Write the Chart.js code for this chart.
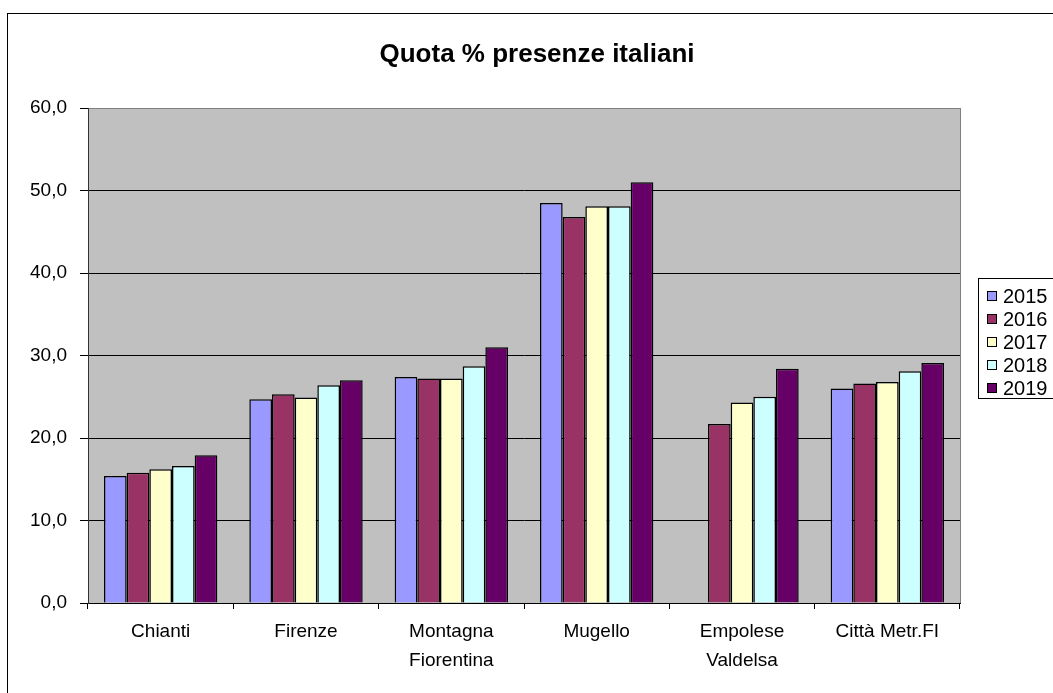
<!DOCTYPE html>
<html>
<head>
<meta charset="utf-8">
<script src="https://cdn.jsdelivr.net/npm/chart.js@4/dist/chart.umd.min.js"></script>
<style>
  html, body { margin: 0; padding: 0; background: #fff; }
  #box { width: 1053px; height: 693px; }
</style>
</head>
<body>
<div id="box"><canvas id="grafico"></canvas></div>
<script>
// Dati
const titolo = 'Quota % presenze italiani';
const zone = ['Chianti', 'Firenze', ['Montagna', 'Fiorentina'], 'Mugello', ['Empolese', 'Valdelsa'], 'Città Metr.FI'];
const anni = ['2015', '2016', '2017', '2018', '2019'];
const colori = ['#9999FF', '#993366', '#FFFFCC', '#CCFFFF', '#660066'];
const valori2015 = [15.4, 24.7, 27.4, 48.5, null, 26.0];
const valori2016 = [15.8, 25.3, 27.2, 46.8, 21.7, 26.6];
const valori2017 = [16.2, 24.9, 27.2, 48.1, 24.3, 26.8];
const valori2018 = [16.6, 26.4, 28.7, 48.1, 25.0, 28.1];
const valori2019 = [17.9, 27.0, 31.0, 51.0, 28.4, 29.1];
const tickY = [0, 10, 20, 30, 40, 50, 60];

const serie = [valori2015, valori2016, valori2017, valori2018, valori2019];
const font = '"Liberation Sans", Arial, sans-serif';

// Sfondo grigio, cornice, titolo e legenda
const decorazioni = {
    id: 'decorazioni',
    beforeDraw(chart) {
        const ctx = chart.ctx;
        const a = chart.chartArea;
        ctx.save();
        ctx.fillStyle = '#C0C0C0';
        ctx.fillRect(a.left, a.top, a.right - a.left, a.bottom - a.top);
        ctx.strokeStyle = '#808080';
        ctx.lineWidth = 1;
        ctx.strokeRect(a.left + 0.5, a.top + 0.5, a.right - a.left, a.bottom - a.top);
        ctx.restore();
    },
    afterDraw(chart) {
        const ctx = chart.ctx;
        ctx.save();
        // cornice esterna
        ctx.strokeStyle = '#000';
        ctx.lineWidth = 1;
        ctx.strokeRect(7.5, 13.5, 1200, 800);
        // titolo
        ctx.fillStyle = '#000';
        ctx.font = 'bold 26px ' + font;
        ctx.textAlign = 'center';
        ctx.textBaseline = 'middle';
        ctx.fillText(titolo, 537, 55);
        // legenda
        ctx.strokeRect(978.5, 278.5, 200, 120);
        ctx.font = '20px ' + font;
        ctx.textAlign = 'left';
        chart.data.datasets.forEach((ds, i) => {
            const y = 296 + i * 23;
            ctx.fillStyle = ds.backgroundColor;
            ctx.fillRect(987, y - 5, 10, 10);
            ctx.strokeStyle = '#000';
            ctx.strokeRect(987.5, y - 4.5, 9, 9);
            ctx.fillStyle = '#000';
            ctx.fillText(ds.label, 1003, y + 1);
        });
        ctx.restore();
    }
};

const datasets = anni.map((anno, i) => ({
    label: anno,
    data: serie[i],
    backgroundColor: colori[i],
    borderColor: '#000',
    borderWidth: 1.5,
    categoryPercentage: 0.78,
    barPercentage: 1
}));

const config = {
    type: 'bar',
    data: { labels: zone, datasets: datasets },
    options: {
        responsive: true,
        maintainAspectRatio: false,
        animation: false,
        layout: { padding: { top: 108, right: 93, left: 0, bottom: 0 } },
        plugins: {
            legend: { display: false },
            title: { display: false },
            tooltip: { enabled: false }
        },
        scales: {
            x: {
                grid: {
                    offset: true,
                    drawOnChartArea: false,
                    drawTicks: true,
                    tickLength: 6,
                    color: '#000'
                },
                border: { color: '#000', width: 1 },
                ticks: {
                    color: '#000',
                    font: { family: font, size: 19, lineHeight: 1.5 },
                    padding: 9,
                    maxRotation: 0,
                    autoSkip: false
                },
                afterFit(scale) { scale.height = 90; }
            },
            y: {
                min: 0,
                max: 60,
                afterBuildTicks(scale) { scale.ticks = tickY.map(v => ({ value: v })); },
                grid: {
                    color: c => (c.tick && c.tick.value === 60) ? '#808080' : '#000',
                    tickLength: 8,
                    tickColor: '#000'
                },
                border: { color: '#333', width: 1 },
                ticks: {
                    color: '#000',
                    font: { family: font, size: 19 },
                    padding: 13,
                    callback: v => v.toFixed(1).replace('.', ',')
                },
                afterFit(scale) { scale.width = 88; }
            }
        }
    },
    plugins: [decorazioni]
};

new Chart(document.getElementById('grafico'), config);
</script>
</body>
</html>
